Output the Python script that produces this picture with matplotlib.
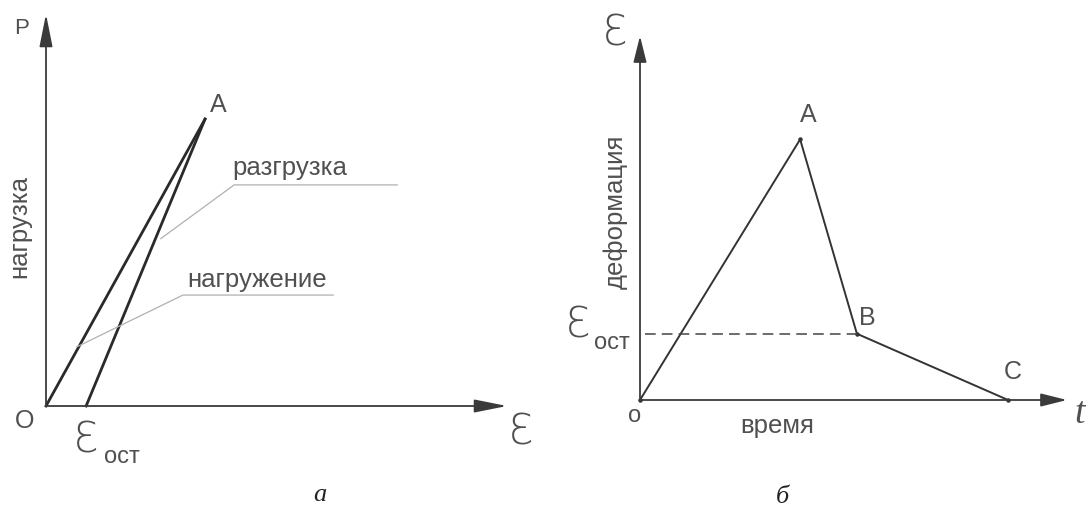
import matplotlib
matplotlib.use('Agg')
import matplotlib.pyplot as plt

# panel a: load P vs strain (axes run 0..1)
load_eps = [0.0, 0.345]
load_P = [0.0, 0.732]
unload_eps = [0.345, 0.087]
unload_P = [0.732, 0.0]
eps_ost_a = 0.087

# panel b: strain vs time (axes run 0..1)
t_pts = [0.0, 0.375, 0.508, 0.862]
eps_pts = [0.0, 0.716, 0.182, 0.0]
pt_names = ['A', 'B', 'C']

plt.rcParams['font.family'] = ['Liberation Sans', 'DejaVu Sans']

W, H = 1090, 506
fig = plt.figure(figsize=(W / 100, H / 100), dpi=100)
fig.patch.set_facecolor('white')


def panel(x0, y0, x1, y1):
    # pixel extents of the axes arrows -> figure fractions
    ax = fig.add_axes([x0 / W, 1 - y0 / H, (x1 - x0) / W, (y0 - y1) / H])
    ax.set_xlim(0, 1)
    ax.set_ylim(0, 1)
    ax.axis('off')
    return ax


def arrows(ax, hl):
    style = '-|>,head_length=%.2f,head_width=0.2' % hl
    kw = dict(arrowstyle=style, lw=1.3, color='#3a3a3a', mutation_scale=20,
              shrinkA=0, shrinkB=0)
    ax.annotate('', xy=(1, 0), xytext=(0, 0), arrowprops=kw, annotation_clip=False)
    ax.annotate('', xy=(0, 1), xytext=(0, 0), arrowprops=kw, annotation_clip=False)


txt = '#505050'
eps = '\u0190'
fs = 18.5
eps_kw = dict(fontsize=30, color=txt, ha='center', va='center',
              family='DejaVu Sans', fontweight='light')

# ---- panel a ----
ax = panel(46, 407, 507, 15)
arrows(ax, 1.0)
ax.plot(load_eps, load_P, color='#2a2a2a', lw=2.0, clip_on=False)
ax.plot(unload_eps, unload_P, color='#2a2a2a', lw=2.0, clip_on=False)

# leader lines
ax.plot([0.249, 0.408, 0.762], [0.427, 0.564, 0.564], color='#b0b0b0', lw=0.9)
ax.plot([0.067, 0.297, 0.623], [0.151, 0.283, 0.283], color='#b0b0b0', lw=0.9)
ax.text(0.529, 0.61, 'разгрузка', fontsize=fs, color=txt, ha='center', va='center')
ax.text(0.458, 0.324, 'нагружение', fontsize=fs, color=txt, ha='center', va='center')

ax.text(-0.057, 0.46, 'нагрузка', fontsize=fs, color=txt, rotation=90,
        ha='center', va='center')
ax.text(-0.052, 0.965, 'P', fontsize=16, color=txt, ha='center', va='center')
ax.text(-0.046, -0.036, 'O', fontsize=18, color=txt, ha='center', va='center')
ax.text(0.373, 0.77, 'A', fontsize=18, color=txt, ha='center', va='center')
ax.text(1.03, -0.065, eps, **eps_kw)
ax.text(eps_ost_a, -0.085, eps, **eps_kw)
ax.text(eps_ost_a + 0.078, -0.128, 'ост', fontsize=17, color=txt,
        ha='center', va='center')
ax.text(0.595, -0.224, 'а', fontsize=19, style='italic', family='Liberation Serif',
        ha='center', va='center', color='#222')

# ---- panel b ----
bx = panel(640, 401, 1067, 37)
arrows(bx, 0.8)
bx.plot(t_pts, eps_pts, color='#333', lw=1.4, clip_on=False)
bx.plot(t_pts, eps_pts, ls='none', marker='o', ms=2.2, color='#333', clip_on=False)
bx.plot([0.012, t_pts[2]], [eps_pts[2], eps_pts[2]], color='#444', lw=1.1,
        ls=(0, (7, 4)))

offs = [(0.02, 0.07), (0.025, 0.045), (0.01, 0.08)]
for name, tx, ey, (dx, dy) in zip(pt_names, t_pts[1:], eps_pts[1:], offs):
    bx.text(tx + dx, ey + dy, name, fontsize=18, color=txt, ha='center', va='center')

bx.text(-0.058, 1.01, eps, **eps_kw)
bx.text(1.03, -0.035, 't', fontsize=27, style='italic', family='Liberation Serif',
        color=txt, ha='center', va='center')
bx.text(-0.012, -0.04, 'o', fontsize=17, color=txt, ha='center', va='center')
bx.text(0.321, -0.07, 'время', fontsize=fs, color=txt, ha='center', va='center')
bx.text(-0.058, 0.52, 'деформация', fontsize=fs, color=txt, rotation=90,
        ha='center', va='center')
bx.text(-0.145, 0.209, eps, **eps_kw)
bx.text(-0.066, 0.159, 'ост', fontsize=17, color=txt, ha='center', va='center')
bx.text(0.333, -0.264, 'б', fontsize=19, style='italic', family='Liberation Serif',
        ha='center', va='center', color='#222')

fig.savefig('out.png', dpi=100, facecolor='white')
